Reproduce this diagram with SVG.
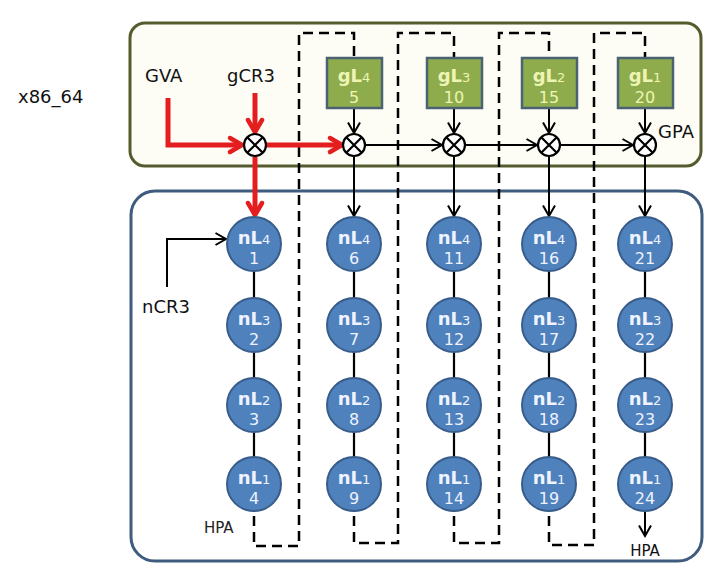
<svg xmlns="http://www.w3.org/2000/svg" width="720" height="576" viewBox="0 0 720 576">
<style>
.lbl{font-family:"DejaVu Sans",Verdana,sans-serif;font-size:18px;fill:#111}
.g{fill:#8fac4c;stroke:#4b6272;stroke-width:2.5}
.gt{font-family:"DejaVu Sans",Verdana,sans-serif;fill:#eef4b4;text-anchor:middle}
.n{fill:#4f81bd;stroke:#385d8a;stroke-width:2}
.nt{font-family:"DejaVu Sans",Verdana,sans-serif;fill:#eef3ff;text-anchor:middle}
.b{font-weight:bold;font-size:18px}
.s{font-weight:normal;font-size:13px}
.num{font-size:16px}
.x{fill:#fff;stroke:#000;stroke-width:2.2}
.xl{stroke:#000;stroke-width:2.2}
.blk{stroke:#000;stroke-width:2;fill:none}
.red{stroke:#e41e1e;stroke-width:5;fill:none}
.dash{stroke:#000;stroke-width:2.5;fill:none;stroke-dasharray:10 6}
.tie{stroke:#000;stroke-width:2.2}
</style>
<defs>
<marker id="ab" markerUnits="userSpaceOnUse" markerWidth="14" markerHeight="14" refX="11" refY="6.5" orient="auto" overflow="visible">
<path d="M0.5,0.5 L11,6.5 L0.5,12.5" fill="none" stroke="#000" stroke-width="2"/>
</marker>
<marker id="ar" markerUnits="userSpaceOnUse" markerWidth="20" markerHeight="20" refX="14" refY="8" orient="auto" overflow="visible">
<path d="M2,1 L14,8 L2,15" fill="none" stroke="#e41e1e" stroke-width="4.5" stroke-linejoin="round" stroke-linecap="round"/>
</marker>
<g id="xsym">
<circle r="11" class="x"/>
<path d="M-7.5,-7.5 L7.5,7.5 M7.5,-7.5 L-7.5,7.5" class="xl"/>
</g>
</defs>
<rect width="720" height="576" fill="#fff"/>

<g id="guest-box">
<rect x="130" y="23" width="571" height="143" rx="15" fill="#fdfdf6" stroke="#545c2e" stroke-width="3"/>
</g>
<g id="host-box">
<rect x="131" y="191" width="571" height="370" rx="24" fill="#fff" stroke="#3f5c7e" stroke-width="3"/>
</g>

<text id="x86" class="lbl" x="18" y="103">x86_64</text>
<text id="gva" class="lbl" x="145" y="82">GVA</text>
<text id="gcr3" class="lbl" x="227" y="82">gCR3</text>
<text id="gpa" class="lbl" x="658" y="138">GPA</text>
<text id="ncr3" class="lbl" x="142" y="313">nCR3</text>
<text id="hpa1" class="lbl" x="204" y="533" style="font-size:15px;fill:#222">HPA</text>
<text id="hpa2" class="lbl" x="645" y="556" text-anchor="middle" style="font-size:15px">HPA</text>

<g id="connectors">
<path class="dash" d="M254,516 V546 H299 V33 H354 V58"/>
<path class="dash" d="M354,516 V543 H398 V33 H454 V58"/>
<path class="dash" d="M454,516 V543 H499 V33 H549 V58"/>
<path class="dash" d="M549,516 V545 H594 V33 H645 V58"/>

<path class="red" d="M168,98 V145 H242" marker-end="url(#ar)"/>
<path class="red" d="M255,93 V132" marker-end="url(#ar)"/>
<path class="red" d="M267,145 H342" marker-end="url(#ar)"/>
<path class="red" d="M255,157 V215" marker-end="url(#ar)"/>

<path class="blk" d="M354,108 V133" marker-end="url(#ab)"/>
<path class="blk" d="M454,108 V133" marker-end="url(#ab)"/>
<path class="blk" d="M549,108 V133" marker-end="url(#ab)"/>
<path class="blk" d="M645,108 V133" marker-end="url(#ab)"/>

<path class="blk" d="M366,145 H442" marker-end="url(#ab)"/>
<path class="blk" d="M466,145 H537" marker-end="url(#ab)"/>
<path class="blk" d="M561,145 H633" marker-end="url(#ab)"/>

<path class="blk" d="M354,157 V216" marker-end="url(#ab)"/>
<path class="blk" d="M454,157 V216" marker-end="url(#ab)"/>
<path class="blk" d="M549,157 V216" marker-end="url(#ab)"/>
<path class="blk" d="M645,157 V216" marker-end="url(#ab)"/>

<path class="blk" d="M167,287 V239 H226" marker-end="url(#ab)"/>
<path class="blk" d="M645,511 V536" marker-end="url(#ab)"/>

<path class="tie" d="M254,271 V298 M254,352 V378 M254,432 V457"/>
<path class="tie" d="M354,271 V298 M354,352 V378 M354,432 V457"/>
<path class="tie" d="M454,271 V298 M454,352 V378 M454,432 V457"/>
<path class="tie" d="M549,271 V298 M549,352 V378 M549,432 V457"/>
<path class="tie" d="M645,271 V298 M645,352 V378 M645,432 V457"/>
</g>

<g id="mult1"><use href="#xsym" x="255" y="145"/></g>
<g id="mult2"><use href="#xsym" x="354" y="145"/></g>
<g id="mult3"><use href="#xsym" x="454" y="145"/></g>
<g id="mult4"><use href="#xsym" x="549" y="145"/></g>
<g id="mult5"><use href="#xsym" x="645" y="145"/></g>

<g id="gL4"><rect class="g" x="327" y="58" width="55" height="50"/><text class="gt" x="354" y="82"><tspan class="b">gL</tspan><tspan class="s">4</tspan></text><text class="gt num" x="354" y="103">5</text></g>
<g id="gL3"><rect class="g" x="427" y="58" width="55" height="50"/><text class="gt" x="454" y="82"><tspan class="b">gL</tspan><tspan class="s">3</tspan></text><text class="gt num" x="454" y="103">10</text></g>
<g id="gL2"><rect class="g" x="522" y="58" width="55" height="50"/><text class="gt" x="549" y="82"><tspan class="b">gL</tspan><tspan class="s">2</tspan></text><text class="gt num" x="549" y="103">15</text></g>
<g id="gL1"><rect class="g" x="618" y="58" width="55" height="50"/><text class="gt" x="645" y="82"><tspan class="b">gL</tspan><tspan class="s">1</tspan></text><text class="gt num" x="645" y="103">20</text></g>

<g id="n1"><circle class="n" cx="254" cy="244" r="27"/><text class="nt" x="254" y="244"><tspan class="b">nL</tspan><tspan class="s">4</tspan></text><text class="nt num" x="254" y="264">1</text></g>
<g id="n2"><circle class="n" cx="254" cy="325" r="27"/><text class="nt" x="254" y="325"><tspan class="b">nL</tspan><tspan class="s">3</tspan></text><text class="nt num" x="254" y="345">2</text></g>
<g id="n3"><circle class="n" cx="254" cy="405" r="27"/><text class="nt" x="254" y="405"><tspan class="b">nL</tspan><tspan class="s">2</tspan></text><text class="nt num" x="254" y="425">3</text></g>
<g id="n4"><circle class="n" cx="254" cy="484" r="27"/><text class="nt" x="254" y="484"><tspan class="b">nL</tspan><tspan class="s">1</tspan></text><text class="nt num" x="254" y="504">4</text></g>

<g id="n6"><circle class="n" cx="354" cy="244" r="27"/><text class="nt" x="354" y="244"><tspan class="b">nL</tspan><tspan class="s">4</tspan></text><text class="nt num" x="354" y="264">6</text></g>
<g id="n7"><circle class="n" cx="354" cy="325" r="27"/><text class="nt" x="354" y="325"><tspan class="b">nL</tspan><tspan class="s">3</tspan></text><text class="nt num" x="354" y="345">7</text></g>
<g id="n8"><circle class="n" cx="354" cy="405" r="27"/><text class="nt" x="354" y="405"><tspan class="b">nL</tspan><tspan class="s">2</tspan></text><text class="nt num" x="354" y="425">8</text></g>
<g id="n9"><circle class="n" cx="354" cy="484" r="27"/><text class="nt" x="354" y="484"><tspan class="b">nL</tspan><tspan class="s">1</tspan></text><text class="nt num" x="354" y="504">9</text></g>

<g id="n11"><circle class="n" cx="454" cy="244" r="27"/><text class="nt" x="454" y="244"><tspan class="b">nL</tspan><tspan class="s">4</tspan></text><text class="nt num" x="454" y="264">11</text></g>
<g id="n12"><circle class="n" cx="454" cy="325" r="27"/><text class="nt" x="454" y="325"><tspan class="b">nL</tspan><tspan class="s">3</tspan></text><text class="nt num" x="454" y="345">12</text></g>
<g id="n13"><circle class="n" cx="454" cy="405" r="27"/><text class="nt" x="454" y="405"><tspan class="b">nL</tspan><tspan class="s">2</tspan></text><text class="nt num" x="454" y="425">13</text></g>
<g id="n14"><circle class="n" cx="454" cy="484" r="27"/><text class="nt" x="454" y="484"><tspan class="b">nL</tspan><tspan class="s">1</tspan></text><text class="nt num" x="454" y="504">14</text></g>

<g id="n16"><circle class="n" cx="549" cy="244" r="27"/><text class="nt" x="549" y="244"><tspan class="b">nL</tspan><tspan class="s">4</tspan></text><text class="nt num" x="549" y="264">16</text></g>
<g id="n17"><circle class="n" cx="549" cy="325" r="27"/><text class="nt" x="549" y="325"><tspan class="b">nL</tspan><tspan class="s">3</tspan></text><text class="nt num" x="549" y="345">17</text></g>
<g id="n18"><circle class="n" cx="549" cy="405" r="27"/><text class="nt" x="549" y="405"><tspan class="b">nL</tspan><tspan class="s">2</tspan></text><text class="nt num" x="549" y="425">18</text></g>
<g id="n19"><circle class="n" cx="549" cy="484" r="27"/><text class="nt" x="549" y="484"><tspan class="b">nL</tspan><tspan class="s">1</tspan></text><text class="nt num" x="549" y="504">19</text></g>

<g id="n21"><circle class="n" cx="645" cy="244" r="27"/><text class="nt" x="645" y="244"><tspan class="b">nL</tspan><tspan class="s">4</tspan></text><text class="nt num" x="645" y="264">21</text></g>
<g id="n22"><circle class="n" cx="645" cy="325" r="27"/><text class="nt" x="645" y="325"><tspan class="b">nL</tspan><tspan class="s">3</tspan></text><text class="nt num" x="645" y="345">22</text></g>
<g id="n23"><circle class="n" cx="645" cy="405" r="27"/><text class="nt" x="645" y="405"><tspan class="b">nL</tspan><tspan class="s">2</tspan></text><text class="nt num" x="645" y="425">23</text></g>
<g id="n24"><circle class="n" cx="645" cy="484" r="27"/><text class="nt" x="645" y="484"><tspan class="b">nL</tspan><tspan class="s">1</tspan></text><text class="nt num" x="645" y="504">24</text></g>
</svg>
